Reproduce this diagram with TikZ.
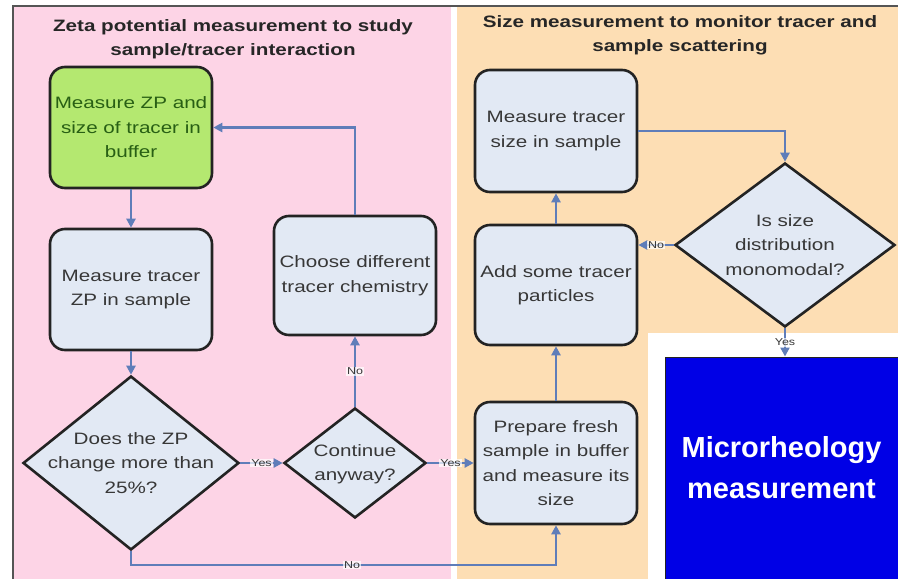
\documentclass[tikz,border=0pt]{standalone}
\usepackage{fontspec}
\setmainfont{Liberation Sans}[FakeStretch=1.25]
\newfontfamily\plainsans{Liberation Sans}
\usetikzlibrary{shapes.geometric,arrows.meta}
\definecolor{pinkbg}{RGB}{253,212,230}
\definecolor{orangebg}{RGB}{253,222,180}
\definecolor{boxfill}{RGB}{226,233,244}
\definecolor{greenfill}{RGB}{180,232,112}
\definecolor{greentext}{RGB}{40,95,20}
\definecolor{linkc}{RGB}{95,125,185}
\definecolor{bluebox}{RGB}{0,0,230}
\definecolor{edgec}{RGB}{35,35,35}
\definecolor{txt}{RGB}{55,55,55}
\definecolor{framec}{RGB}{85,85,85}
\begin{document}
\begin{tikzpicture}[x=1pt,y=-1pt,
 proc/.style={draw=edgec, line width=2.6pt, rounded corners=15pt, fill=boxfill,
   minimum width=162pt, minimum height=121pt, inner sep=0pt, align=center,
   text=txt, font=\fontsize{16.5}{24.5}\selectfont},
 dec/.style={draw=edgec, line width=2.6pt, diamond, fill=boxfill, inner sep=0pt},
 dectext/.style={align=center, text=txt, inner sep=0pt, font=\fontsize{16.5}{24.5}\selectfont},
 link/.style={draw=linkc, line width=2.8pt, -{Triangle[length=9pt,width=9pt]}},
 lab/.style={fill=white, fill opacity=0.7, text opacity=1, inner sep=1pt,
   font=\fontsize{10}{12}\selectfont, text=txt},
 title/.style={align=center, inner sep=0pt, font=\bfseries\fontsize{16.5}{24}\selectfont, text=black!85}
]
\useasboundingbox (0,0) rectangle (898,579);
% panels
\fill[white] (0,0) rectangle (898,579);
\fill[pinkbg] (13,6) rectangle (451,579);
\fill[orangebg] (457,6) rectangle (898,579);
\fill[white] (648,333) rectangle (898,579);
\draw[framec, line width=2pt] (13,579) -- (13,6) -- (898,6);

% titles
\node[title] (t1) at (233,39) {Zeta potential measurement to study\\sample/tracer interaction};
\node[title] (t2) at (680,35) {Size measurement to monitor tracer and\\sample scattering};

% left column
\node[proc, fill=greenfill, text=greentext] (green) at (131,127.5) {Measure ZP and\\size of tracer in\\buffer};
\node[proc] (mtzp) at (131,289.5) {Measure tracer\\ZP in sample};
\node[proc, minimum height=119pt] (choose) at (355,275.5) {Choose different\\tracer chemistry};

\node[dec, minimum width=216pt, minimum height=174pt] (d1) at (131,463) {};
\node[dectext] (d1t) at (131,463) {Does the ZP\\change more than\\25\%?};
\node[dec, minimum width=142pt, minimum height=110pt] (cont) at (355,463) {};
\node[dectext] (contt) at (355,464) {Continue\\anyway?};

% right column
\node[proc, minimum height=122pt] (mts) at (556,131) {Measure tracer\\size in sample};
\node[proc, minimum height=120pt] (add) at (556,285) {Add some tracer\\particles};
\node[proc, minimum height=122pt] (prep) at (556,463) {Prepare fresh\\sample in buffer\\and measure its\\size};

\node[dec, minimum width=220pt, minimum height=164pt] (mono) at (785,245) {};
\node[dectext] (monot) at (785,245) {Is size\\distribution\\monomodal?};

\node[fill=bluebox, draw=edgec, line width=1pt, minimum width=233pt, minimum height=222pt,
  inner sep=0pt, align=center, text=white,
  font=\plainsans\bfseries\fontsize{29}{41}\selectfont] (micro) at (781.5,468) {Microrheology\\measurement};

% connectors
\draw[link] (green.south) -- (mtzp.north);
\draw[link] (mtzp.south) -- (d1.north);
\draw[link] (choose.north) |- (green.east);
\draw[link] (d1.east) -- node[lab] (y1) {Yes} (cont.west);
\draw[link] (cont.north) -- node[lab] (n1) {No} (choose.south);
\draw[link] (cont.east) -- node[lab] (y2) {Yes} (prep.west);
\coordinate (nocorner) at (131,565);
\draw[link] (d1.south) -- (nocorner) -| node[lab, pos=0.26] (n2) {No} (prep.south);
\draw[link] (prep.north) -- (add.south);
\draw[link] (add.north) -- (mts.south);
\draw[link] (mts.east) -| (mono.north);
\draw[link] (mono.west) -- node[lab] (n3) {No} (mono.west -| add.east);
\draw[link] (mono.south) -- node[lab] (y3) {Yes} (mono.south |- micro.north);
\end{tikzpicture}
\end{document}
